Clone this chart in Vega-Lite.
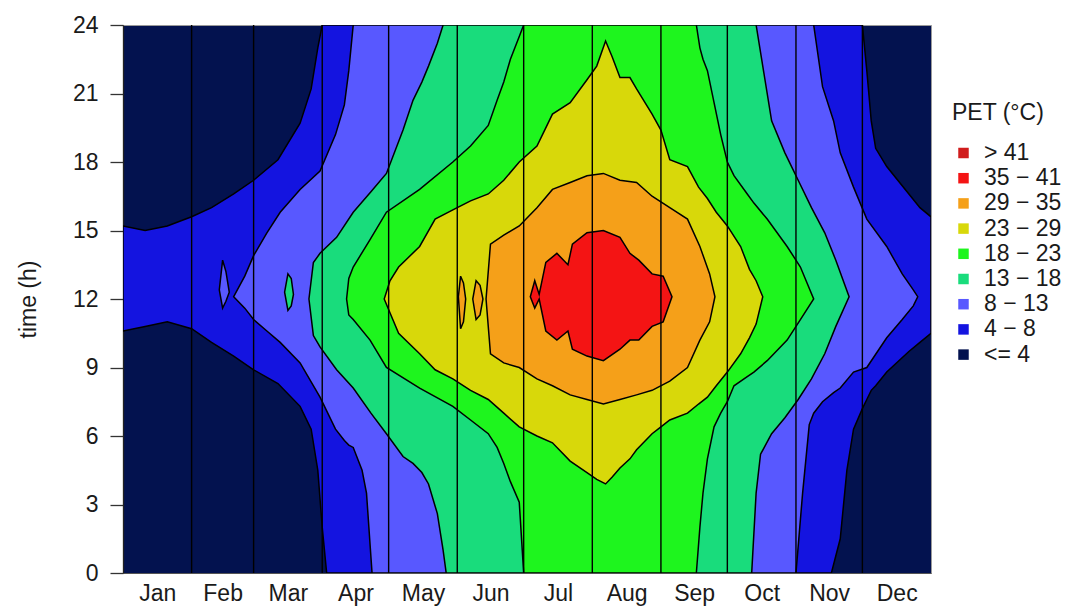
{
  "$schema": "https://vega.github.io/schema/vega-lite/v6.json",
  "width": 808,
  "height": 548,
  "autosize": {"type": "none"},
  "padding": {"left": 123, "top": 25, "right": 134, "bottom": 33},
  "config": {
    "font": "Liberation Sans",
    "view": {"fill": "#03124f", "stroke": "#9a9a9a", "strokeWidth": 1}
  },
  "datasets": {
    "pet": [
      {"c": "4 − 8", "g": "m", "d": 0, "lo": 10.6, "hi": 15.2},
      {"c": "4 − 8", "g": "m", "d": 10, "lo": 10.8, "hi": 15.0},
      {"c": "4 − 8", "g": "m", "d": 20, "lo": 11.0, "hi": 15.2},
      {"c": "4 − 8", "g": "m", "d": 31, "lo": 10.7, "hi": 15.6},
      {"c": "4 − 8", "g": "m", "d": 40, "lo": 10.1, "hi": 16.0},
      {"c": "4 − 8", "g": "m", "d": 50, "lo": 9.5, "hi": 16.6},
      {"c": "4 − 8", "g": "m", "d": 59, "lo": 8.9, "hi": 17.2},
      {"c": "4 − 8", "g": "m", "d": 70, "lo": 8.3, "hi": 18.1},
      {"c": "4 − 8", "g": "m", "d": 80, "lo": 7.3, "hi": 19.7},
      {"c": "4 − 8", "g": "m", "d": 85, "lo": 6.3, "hi": 21.2},
      {"c": "4 − 8", "g": "m", "d": 88, "lo": 4.5, "hi": 23.0},
      {"c": "4 − 8", "g": "m", "d": 90, "lo": 2.0, "hi": 24},
      {"c": "4 − 8", "g": "m", "d": 92, "lo": 0, "hi": 24},
      {"c": "4 − 8", "g": "m", "d": 320, "lo": 0, "hi": 24},
      {"c": "4 − 8", "g": "m", "d": 324, "lo": 1.5, "hi": 24},
      {"c": "4 − 8", "g": "m", "d": 327, "lo": 4.5, "hi": 24},
      {"c": "4 − 8", "g": "m", "d": 330, "lo": 6.3, "hi": 24},
      {"c": "4 − 8", "g": "m", "d": 334, "lo": 7.2, "hi": 24},
      {"c": "4 − 8", "g": "m", "d": 336, "lo": 7.6, "hi": 22.0},
      {"c": "4 − 8", "g": "m", "d": 338, "lo": 8.0, "hi": 19.8},
      {"c": "4 − 8", "g": "m", "d": 340, "lo": 8.2, "hi": 18.6},
      {"c": "4 − 8", "g": "m", "d": 345, "lo": 8.8, "hi": 17.8},
      {"c": "4 − 8", "g": "m", "d": 355, "lo": 9.7, "hi": 16.6},
      {"c": "4 − 8", "g": "m", "d": 360, "lo": 10.1, "hi": 16.0},
      {"c": "4 − 8", "g": "m", "d": 365, "lo": 10.5, "hi": 15.6},

      {"c": "8 − 13", "g": "i1", "d": 43.5, "lo": 12.4, "hi": 12.4},
      {"c": "8 − 13", "g": "i1", "d": 45, "lo": 11.6, "hi": 13.7},
      {"c": "8 − 13", "g": "i1", "d": 46.5, "lo": 11.9, "hi": 13.2},
      {"c": "8 − 13", "g": "i1", "d": 48, "lo": 12.3, "hi": 12.3},
      {"c": "8 − 13", "g": "m", "d": 50, "lo": 12.1, "hi": 12.1},
      {"c": "8 − 13", "g": "m", "d": 55, "lo": 11.6, "hi": 13.0},
      {"c": "8 − 13", "g": "m", "d": 59, "lo": 11.1, "hi": 13.9},
      {"c": "8 − 13", "g": "m", "d": 65, "lo": 10.6, "hi": 14.9},
      {"c": "8 − 13", "g": "m", "d": 71, "lo": 10.1, "hi": 15.8},
      {"c": "8 − 13", "g": "m", "d": 80, "lo": 9.2, "hi": 16.8},
      {"c": "8 − 13", "g": "m", "d": 89, "lo": 7.7, "hi": 17.6},
      {"c": "8 − 13", "g": "m", "d": 96, "lo": 6.3, "hi": 19.2},
      {"c": "8 − 13", "g": "m", "d": 100, "lo": 5.8, "hi": 20.5},
      {"c": "8 − 13", "g": "m", "d": 102, "lo": 5.6, "hi": 22.0},
      {"c": "8 − 13", "g": "m", "d": 104, "lo": 5.5, "hi": 24},
      {"c": "8 − 13", "g": "m", "d": 108, "lo": 4.5, "hi": 24},
      {"c": "8 − 13", "g": "m", "d": 110, "lo": 3.5, "hi": 24},
      {"c": "8 − 13", "g": "m", "d": 112.5, "lo": 0, "hi": 24},
      {"c": "8 − 13", "g": "m", "d": 304, "lo": 0, "hi": 24},
      {"c": "8 − 13", "g": "m", "d": 307, "lo": 3.5, "hi": 24},
      {"c": "8 − 13", "g": "m", "d": 310, "lo": 6.5, "hi": 24},
      {"c": "8 − 13", "g": "m", "d": 312, "lo": 7.0, "hi": 24},
      {"c": "8 − 13", "g": "m", "d": 316, "lo": 7.5, "hi": 21.3},
      {"c": "8 − 13", "g": "m", "d": 321, "lo": 7.9, "hi": 19.8},
      {"c": "8 − 13", "g": "m", "d": 324, "lo": 8.1, "hi": 18.4},
      {"c": "8 − 13", "g": "m", "d": 330, "lo": 8.8, "hi": 16.9},
      {"c": "8 − 13", "g": "m", "d": 336, "lo": 9.0, "hi": 15.5},
      {"c": "8 − 13", "g": "m", "d": 345, "lo": 10.3, "hi": 14.3},
      {"c": "8 − 13", "g": "m", "d": 352, "lo": 11.1, "hi": 13.1},
      {"c": "8 − 13", "g": "m", "d": 357, "lo": 11.7, "hi": 12.4},
      {"c": "8 − 13", "g": "m", "d": 359, "lo": 12.1, "hi": 12.1},

      {"c": "13 − 18", "g": "i1", "d": 73, "lo": 12.3, "hi": 12.3},
      {"c": "13 − 18", "g": "i1", "d": 74.5, "lo": 11.5, "hi": 13.1},
      {"c": "13 − 18", "g": "i1", "d": 76, "lo": 11.7, "hi": 12.9},
      {"c": "13 − 18", "g": "i1", "d": 77, "lo": 12.2, "hi": 12.2},
      {"c": "13 − 18", "g": "m", "d": 84, "lo": 12.0, "hi": 12.0},
      {"c": "13 − 18", "g": "m", "d": 86, "lo": 10.4, "hi": 13.6},
      {"c": "13 − 18", "g": "m", "d": 89, "lo": 9.9, "hi": 14.0},
      {"c": "13 − 18", "g": "m", "d": 96.5, "lo": 8.9, "hi": 14.7},
      {"c": "13 − 18", "g": "m", "d": 104, "lo": 8.1, "hi": 15.8},
      {"c": "13 − 18", "g": "m", "d": 112, "lo": 7.0, "hi": 16.7},
      {"c": "13 − 18", "g": "m", "d": 119, "lo": 6.1, "hi": 17.5},
      {"c": "13 − 18", "g": "m", "d": 126.5, "lo": 5.1, "hi": 19.4},
      {"c": "13 − 18", "g": "m", "d": 131, "lo": 4.8, "hi": 20.7},
      {"c": "13 − 18", "g": "m", "d": 135, "lo": 4.4, "hi": 21.5},
      {"c": "13 − 18", "g": "m", "d": 138, "lo": 3.9, "hi": 22.2},
      {"c": "13 − 18", "g": "m", "d": 142, "lo": 2.6, "hi": 23.2},
      {"c": "13 − 18", "g": "m", "d": 144.6, "lo": 1.0, "hi": 24},
      {"c": "13 − 18", "g": "m", "d": 146, "lo": 0, "hi": 24},
      {"c": "13 − 18", "g": "m", "d": 284, "lo": 0, "hi": 24},
      {"c": "13 − 18", "g": "m", "d": 286, "lo": 3.5, "hi": 24},
      {"c": "13 − 18", "g": "m", "d": 288, "lo": 5.2, "hi": 22.8},
      {"c": "13 − 18", "g": "m", "d": 293, "lo": 6.1, "hi": 19.8},
      {"c": "13 − 18", "g": "m", "d": 299, "lo": 6.8, "hi": 18.4},
      {"c": "13 − 18", "g": "m", "d": 305, "lo": 7.6, "hi": 17.2},
      {"c": "13 − 18", "g": "m", "d": 311, "lo": 8.5, "hi": 16.0},
      {"c": "13 − 18", "g": "m", "d": 317, "lo": 9.6, "hi": 14.9},
      {"c": "13 − 18", "g": "m", "d": 322, "lo": 10.8, "hi": 13.7},
      {"c": "13 − 18", "g": "m", "d": 328, "lo": 12.1, "hi": 12.1},

      {"c": "18 − 23", "g": "m", "d": 101, "lo": 12.0, "hi": 12.0},
      {"c": "18 − 23", "g": "m", "d": 102, "lo": 11.3, "hi": 12.9},
      {"c": "18 − 23", "g": "m", "d": 104, "lo": 11.1, "hi": 13.4},
      {"c": "18 − 23", "g": "m", "d": 111.6, "lo": 10.2, "hi": 14.6},
      {"c": "18 − 23", "g": "m", "d": 119, "lo": 9.0, "hi": 15.8},
      {"c": "18 − 23", "g": "m", "d": 134, "lo": 8.1, "hi": 16.8},
      {"c": "18 − 23", "g": "m", "d": 149, "lo": 7.3, "hi": 18.0},
      {"c": "18 − 23", "g": "m", "d": 157, "lo": 6.7, "hi": 18.7},
      {"c": "18 − 23", "g": "m", "d": 165, "lo": 6.1, "hi": 19.6},
      {"c": "18 − 23", "g": "m", "d": 169, "lo": 5.5, "hi": 20.7},
      {"c": "18 − 23", "g": "m", "d": 172, "lo": 4.8, "hi": 21.5},
      {"c": "18 − 23", "g": "m", "d": 175, "lo": 4.0, "hi": 22.5},
      {"c": "18 − 23", "g": "m", "d": 179, "lo": 3.1, "hi": 23.5},
      {"c": "18 − 23", "g": "m", "d": 181, "lo": 0, "hi": 24},
      {"c": "18 − 23", "g": "m", "d": 259, "lo": 0, "hi": 24},
      {"c": "18 − 23", "g": "m", "d": 260.6, "lo": 2.0, "hi": 23.0},
      {"c": "18 − 23", "g": "m", "d": 262, "lo": 3.5, "hi": 22.5},
      {"c": "18 − 23", "g": "m", "d": 264, "lo": 5.0, "hi": 22.0},
      {"c": "18 − 23", "g": "m", "d": 267, "lo": 6.4, "hi": 20.6},
      {"c": "18 − 23", "g": "m", "d": 270, "lo": 7.0, "hi": 19.2},
      {"c": "18 − 23", "g": "m", "d": 273, "lo": 7.5, "hi": 18.0},
      {"c": "18 − 23", "g": "m", "d": 276, "lo": 8.2, "hi": 17.4},
      {"c": "18 − 23", "g": "m", "d": 282, "lo": 8.6, "hi": 16.6},
      {"c": "18 − 23", "g": "m", "d": 285, "lo": 8.8, "hi": 16.2},
      {"c": "18 − 23", "g": "m", "d": 291, "lo": 9.3, "hi": 15.5},
      {"c": "18 − 23", "g": "m", "d": 300, "lo": 10.2, "hi": 14.3},
      {"c": "18 − 23", "g": "m", "d": 306, "lo": 11.1, "hi": 13.4},
      {"c": "18 − 23", "g": "m", "d": 312, "lo": 12.0, "hi": 12.0},

      {"c": "23 − 29", "g": "m", "d": 118, "lo": 12.0, "hi": 12.0},
      {"c": "23 − 29", "g": "m", "d": 120.6, "lo": 11.4, "hi": 12.8},
      {"c": "23 − 29", "g": "m", "d": 124.5, "lo": 10.5, "hi": 13.4},
      {"c": "23 − 29", "g": "m", "d": 134, "lo": 9.6, "hi": 14.3},
      {"c": "23 − 29", "g": "m", "d": 141, "lo": 8.9, "hi": 15.5},
      {"c": "23 − 29", "g": "m", "d": 149, "lo": 8.5, "hi": 15.9},
      {"c": "23 − 29", "g": "m", "d": 157, "lo": 8.0, "hi": 16.3},
      {"c": "23 − 29", "g": "m", "d": 165, "lo": 7.6, "hi": 16.6},
      {"c": "23 − 29", "g": "m", "d": 172, "lo": 7.0, "hi": 17.2},
      {"c": "23 − 29", "g": "m", "d": 179, "lo": 6.4, "hi": 18.0},
      {"c": "23 − 29", "g": "m", "d": 187, "lo": 6.0, "hi": 18.7},
      {"c": "23 − 29", "g": "m", "d": 194, "lo": 5.7, "hi": 20.1},
      {"c": "23 − 29", "g": "m", "d": 202, "lo": 4.9, "hi": 20.6},
      {"c": "23 − 29", "g": "m", "d": 209.6, "lo": 4.4, "hi": 21.6},
      {"c": "23 − 29", "g": "m", "d": 214, "lo": 4.1, "hi": 22.2},
      {"c": "23 − 29", "g": "m", "d": 218, "lo": 3.9, "hi": 23.3},
      {"c": "23 − 29", "g": "m", "d": 221, "lo": 4.2, "hi": 22.6},
      {"c": "23 − 29", "g": "m", "d": 224.5, "lo": 4.6, "hi": 21.7},
      {"c": "23 − 29", "g": "m", "d": 229, "lo": 5.0, "hi": 21.7},
      {"c": "23 − 29", "g": "m", "d": 232, "lo": 5.4, "hi": 21.2},
      {"c": "23 − 29", "g": "m", "d": 239, "lo": 6.1, "hi": 20.1},
      {"c": "23 − 29", "g": "m", "d": 243, "lo": 6.4, "hi": 19.4},
      {"c": "23 − 29", "g": "m", "d": 247, "lo": 6.7, "hi": 18.1},
      {"c": "23 − 29", "g": "m", "d": 255, "lo": 7.0, "hi": 17.8},
      {"c": "23 − 29", "g": "m", "d": 260, "lo": 7.4, "hi": 16.9},
      {"c": "23 − 29", "g": "m", "d": 264, "lo": 7.7, "hi": 16.4},
      {"c": "23 − 29", "g": "m", "d": 268, "lo": 8.2, "hi": 15.8},
      {"c": "23 − 29", "g": "m", "d": 273, "lo": 8.8, "hi": 15.2},
      {"c": "23 − 29", "g": "m", "d": 279, "lo": 9.6, "hi": 14.3},
      {"c": "23 − 29", "g": "m", "d": 283, "lo": 10.3, "hi": 13.3},
      {"c": "23 − 29", "g": "m", "d": 286, "lo": 10.9, "hi": 12.8},
      {"c": "23 − 29", "g": "m", "d": 289, "lo": 12.1, "hi": 12.1},

      {"c": "29 − 35", "g": "i1", "d": 151.5, "lo": 12.1, "hi": 12.1},
      {"c": "29 − 35", "g": "i1", "d": 152.5, "lo": 10.7, "hi": 13.0},
      {"c": "29 − 35", "g": "i1", "d": 153.8, "lo": 11.0, "hi": 12.7},
      {"c": "29 − 35", "g": "i1", "d": 154.8, "lo": 12.0, "hi": 12.0},
      {"c": "29 − 35", "g": "i2", "d": 158, "lo": 12.0, "hi": 12.0},
      {"c": "29 − 35", "g": "i2", "d": 159.5, "lo": 11.1, "hi": 12.8},
      {"c": "29 − 35", "g": "i2", "d": 161.3, "lo": 11.3, "hi": 12.6},
      {"c": "29 − 35", "g": "i2", "d": 162.6, "lo": 12.0, "hi": 12.0},
      {"c": "29 − 35", "g": "m", "d": 164, "lo": 12.0, "hi": 12.0},
      {"c": "29 − 35", "g": "m", "d": 166, "lo": 9.6, "hi": 14.4},
      {"c": "29 − 35", "g": "m", "d": 172, "lo": 9.2, "hi": 14.8},
      {"c": "29 − 35", "g": "m", "d": 179, "lo": 9.0, "hi": 15.2},
      {"c": "29 − 35", "g": "m", "d": 187, "lo": 8.5, "hi": 16.0},
      {"c": "29 − 35", "g": "m", "d": 194, "lo": 8.2, "hi": 16.8},
      {"c": "29 − 35", "g": "m", "d": 202, "lo": 7.8, "hi": 17.1},
      {"c": "29 − 35", "g": "m", "d": 209.6, "lo": 7.6, "hi": 17.4},
      {"c": "29 − 35", "g": "m", "d": 217, "lo": 7.4, "hi": 17.5},
      {"c": "29 − 35", "g": "m", "d": 224.5, "lo": 7.6, "hi": 17.2},
      {"c": "29 − 35", "g": "m", "d": 232, "lo": 7.8, "hi": 17.1},
      {"c": "29 − 35", "g": "m", "d": 239, "lo": 8.0, "hi": 16.5},
      {"c": "29 − 35", "g": "m", "d": 247, "lo": 8.4, "hi": 16.0},
      {"c": "29 − 35", "g": "m", "d": 255, "lo": 9.0, "hi": 15.5},
      {"c": "29 − 35", "g": "m", "d": 260.6, "lo": 10.2, "hi": 14.3},
      {"c": "29 − 35", "g": "m", "d": 265, "lo": 11.0, "hi": 13.1},
      {"c": "29 − 35", "g": "m", "d": 267.4, "lo": 12.1, "hi": 12.1},

      {"c": "35 − 41", "g": "m", "d": 184, "lo": 12.1, "hi": 12.1},
      {"c": "35 − 41", "g": "m", "d": 186, "lo": 11.6, "hi": 12.8},
      {"c": "35 − 41", "g": "m", "d": 188, "lo": 12.0, "hi": 12.2},
      {"c": "35 − 41", "g": "m", "d": 191, "lo": 10.6, "hi": 13.6},
      {"c": "35 − 41", "g": "m", "d": 196, "lo": 10.2, "hi": 14.0},
      {"c": "35 − 41", "g": "m", "d": 201, "lo": 10.6, "hi": 13.5},
      {"c": "35 − 41", "g": "m", "d": 203, "lo": 9.8, "hi": 14.4},
      {"c": "35 − 41", "g": "m", "d": 209.6, "lo": 9.5, "hi": 14.9},
      {"c": "35 − 41", "g": "m", "d": 217, "lo": 9.3, "hi": 15.0},
      {"c": "35 − 41", "g": "m", "d": 224.5, "lo": 9.8, "hi": 14.7},
      {"c": "35 − 41", "g": "m", "d": 229, "lo": 10.2, "hi": 14.0},
      {"c": "35 − 41", "g": "m", "d": 233, "lo": 10.2, "hi": 13.7},
      {"c": "35 − 41", "g": "m", "d": 239, "lo": 10.8, "hi": 13.1},
      {"c": "35 − 41", "g": "m", "d": 244, "lo": 11.0, "hi": 13.0},
      {"c": "35 − 41", "g": "m", "d": 248, "lo": 12.1, "hi": 12.1}
    ],
    "months": [
      {"d": 31}, {"d": 59}, {"d": 90}, {"d": 120}, {"d": 151}, {"d": 181},
      {"d": 212}, {"d": 243}, {"d": 273}, {"d": 304}, {"d": 334}
    ]
  },
  "layer": [
    {
      "data": {"name": "pet"},
      "encoding": {
        "x": {
          "field": "d", "type": "quantitative",
          "scale": {"domain": [0, 365], "nice": false, "zero": false},
          "axis": {
            "title": null,
            "values": [15.5, 45, 74.5, 105, 135.5, 166, 196.5, 227.5, 258, 288.5, 319, 349.5],
            "labelExpr": "['Jan','Feb','Mar','Apr','May','Jun','Jul','Aug','Sep','Oct','Nov','Dec'][floor(datum.value/30.42)]",
            "ticks": false, "grid": false,
            "domainColor": "#555", "domainWidth": 1.2,
            "labelFontSize": 23, "labelColor": "#1a1a1a", "labelPadding": 9,
            "labelFlush": false, "labelOverlap": false
          }
        },
        "y": {
          "field": "lo", "type": "quantitative",
          "scale": {"domain": [0, 24], "nice": false, "zero": false},
          "axis": {
            "title": "time (h)",
            "values": [0, 3, 6, 9, 12, 15, 18, 21, 24],
            "grid": false,
            "tickSize": 13, "tickColor": "#333", "tickWidth": 1.3,
            "domainColor": "#222", "domainWidth": 1.3,
            "labelFontSize": 23, "labelColor": "#1a1a1a", "labelPadding": 12,
            "titleFontSize": 23, "titleFontWeight": "normal", "titleColor": "#1a1a1a",
            "titlePadding": 32
          }
        },
        "y2": {"field": "hi"},
        "detail": {"field": "g", "type": "nominal"},
        "color": {
          "field": "c", "type": "nominal",
          "scale": {
            "domain": ["> 41", "35 − 41", "29 − 35", "23 − 29", "18 − 23", "13 − 18", "8 − 13", "4 − 8", "<= 4"],
            "range": ["#d01c1c", "#f41414", "#f5a019", "#d8d80a", "#1ef51e", "#19dc7c", "#5858ff", "#1414e0", "#03124f"]
          },
          "legend": {
            "orient": "none", "legendX": 829, "legendY": 77,
            "title": "PET (°C)", "titleFontSize": 23, "titleFontWeight": "normal", "titleColor": "#1a1a1a",
            "titlePadding": 16.5,
            "labelFontSize": 23, "labelColor": "#1a1a1a", "labelOffset": 9,
            "symbolType": "square", "symbolSize": 110, "symbolStrokeWidth": 0,
            "rowPadding": 1.2, "padding": 0
          }
        }
      },
      "layer": [
        {"transform": [{"filter": "datum.c === '4 − 8'"}], "mark": {"type": "area", "stroke": "black", "strokeWidth": 1.5, "clip": true}},
        {"transform": [{"filter": "datum.c === '8 − 13'"}], "mark": {"type": "area", "stroke": "black", "strokeWidth": 1.5, "clip": true}},
        {"transform": [{"filter": "datum.c === '13 − 18'"}], "mark": {"type": "area", "stroke": "black", "strokeWidth": 1.5, "clip": true}},
        {"transform": [{"filter": "datum.c === '18 − 23'"}], "mark": {"type": "area", "stroke": "black", "strokeWidth": 1.5, "clip": true}},
        {"transform": [{"filter": "datum.c === '23 − 29'"}], "mark": {"type": "area", "stroke": "black", "strokeWidth": 1.5, "clip": true}},
        {"transform": [{"filter": "datum.c === '29 − 35'"}], "mark": {"type": "area", "stroke": "black", "strokeWidth": 1.5, "clip": true}},
        {"transform": [{"filter": "datum.c === '35 − 41'"}], "mark": {"type": "area", "stroke": "black", "strokeWidth": 1.5, "clip": true}}
      ]
    },
    {
      "data": {"name": "months"},
      "mark": {"type": "rule", "color": "black", "strokeWidth": 1.4},
      "encoding": {
        "x": {"field": "d", "type": "quantitative"}
      }
    }
  ]
}
